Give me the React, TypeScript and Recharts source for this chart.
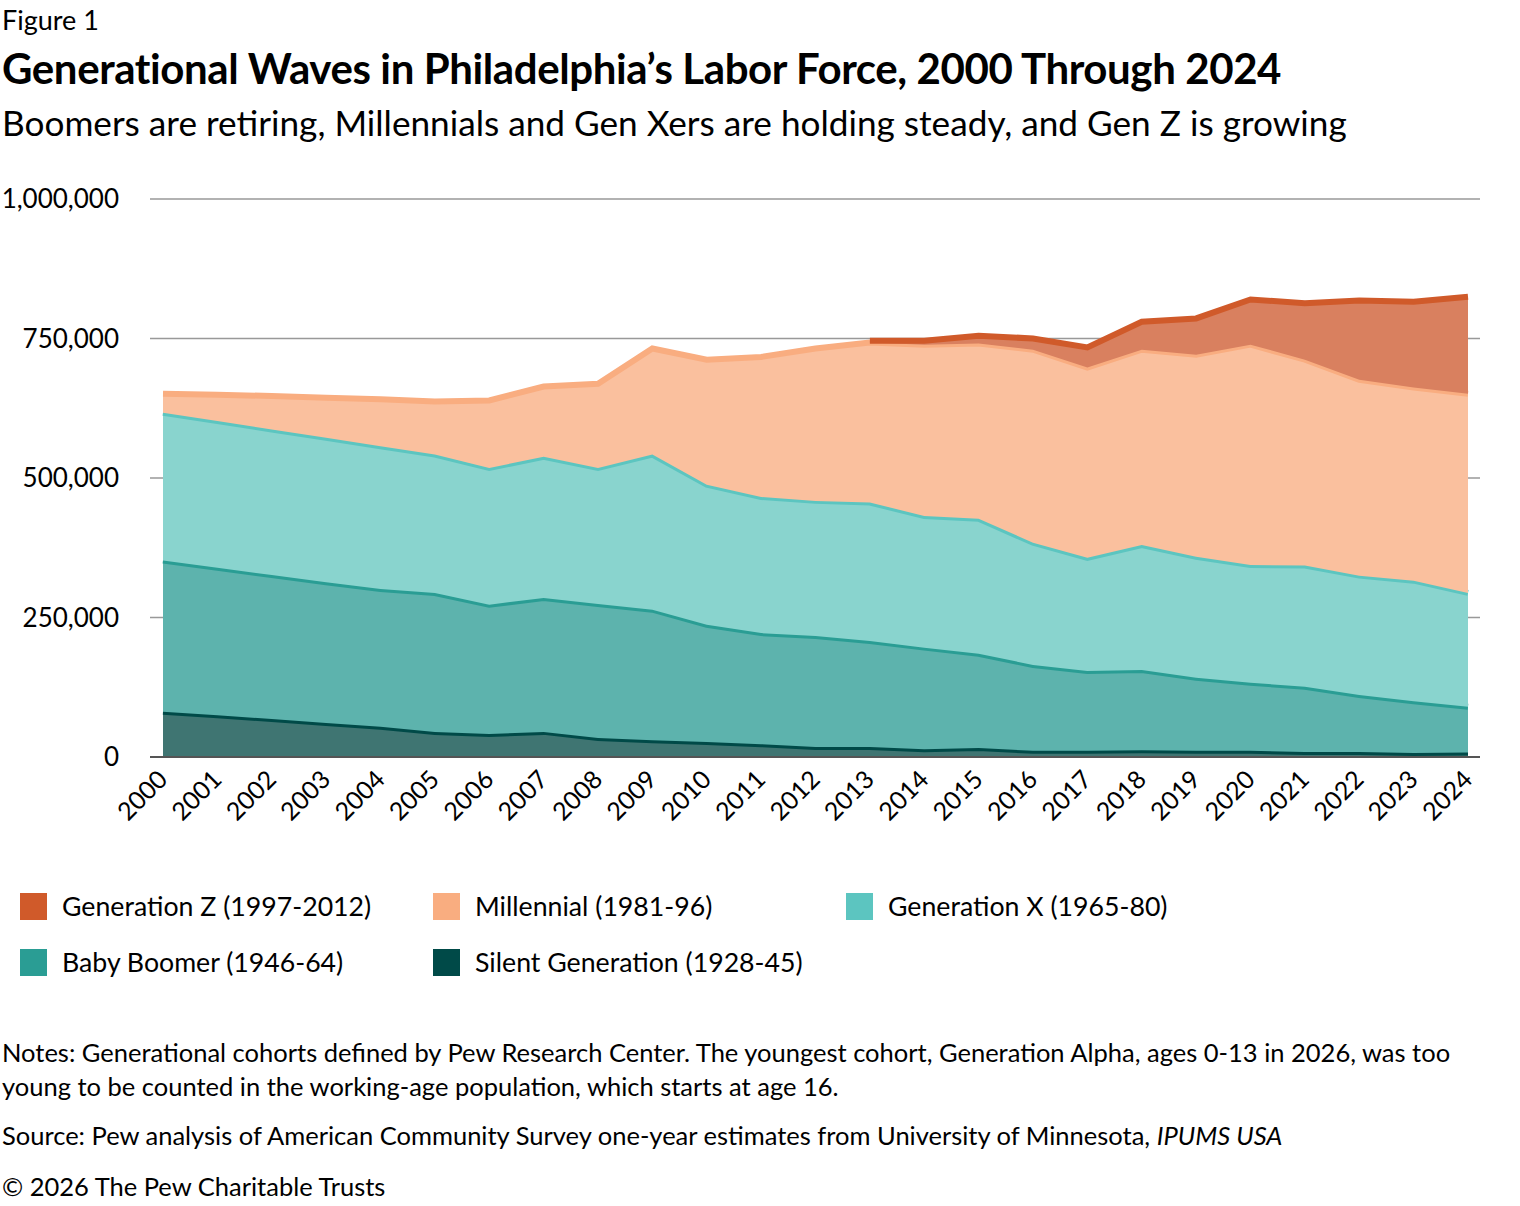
import { AreaChart, Area, XAxis, YAxis, CartesianGrid } from "recharts";

const years = ["2000","2001","2002","2003","2004","2005","2006","2007","2008","2009","2010","2011","2012","2013","2014","2015","2016","2017","2018","2019","2020","2021","2022","2023","2024"];

// cumulative tops, converted to layers below
const silent = [81000,75000,68000,61000,54000,45000,41000,45000,34000,30000,27000,23000,18000,18000,14000,16000,11000,11000,12000,11000,11000,9000,9000,7000,8000];
const boomerTop = [352000,339000,326000,313000,301000,294000,273000,285000,274000,264000,237000,222000,217000,208000,196000,185000,165000,154000,156000,142000,133000,126000,111000,100000,90000];
const genXTop = [617000,602000,587000,572000,557000,542000,518000,538000,518000,542000,488000,466000,459000,456000,432000,427000,384000,357000,380000,359000,344000,343000,325000,316000,294000];
const millTop = [651000,649000,647000,644000,641000,637000,639000,664000,669000,732000,712000,717000,732000,743000,739000,741000,730000,698000,730000,721000,739000,712000,676000,662000,651000];
const genZ: (number | null)[] = [null,null,null,null,null,null,null,null,null,null,null,null,null,3000,7000,14000,20000,36000,50000,65000,81000,101000,142000,154000,174000];

const yTicks = [0, 250000, 500000, 750000, 1000000];

const data = years.map((year, i) => ({
  year,
  silent: silent[i],
  boomer: boomerTop[i] - silent[i],
  genX: genXTop[i] - boomerTop[i],
  mill: millTop[i] - genXTop[i],
  genZ: genZ[i],
}));

const series = [
  { key: "silent", stroke: "#004a48", fill: "#3f7572", name: "Silent Generation (1928-45)" },
  { key: "boomer", stroke: "#2a9d94", fill: "#5db3ad", name: "Baby Boomer (1946-64)" },
  { key: "genX", stroke: "#5cc5c0", fill: "#89d4ce", name: "Generation X (1965-80)" },
  { key: "mill", stroke: "#f9ad80", fill: "#fac09e", name: "Millennial (1981-96)" },
  { key: "genZ", stroke: "#d05a2a", fill: "#d9805f", name: "Generation Z (1997-2012)" },
];

const legendRows = [
  [series[4], series[3], series[2]],
  [series[1], series[0]],
];

const font = "Lato, 'Open Sans', sans-serif";

const XTick = (props: any) => {
  const { x, y, payload } = props;
  return (
    <text
      x={x + 6}
      y={y + 16}
      textAnchor="end"
      fontSize={25}
      fill="#000"
      fontFamily={font}
      transform={`rotate(-45 ${x + 6} ${y + 16})`}
    >
      {payload.value}
    </text>
  );
};

export default function App() {
  return (
    <div style={{ position: "absolute", left: 0, top: 0, width: 1520, height: 1206, background: "#fff", fontFamily: font, color: "#000" }}>
      <div style={{ position: "absolute", left: 2, top: 3, fontSize: 27 }}>Figure 1</div>
      <div style={{ position: "absolute", left: 2, top: 43, fontSize: 42, fontWeight: 700, letterSpacing: -0.4 }}>
        Generational Waves in Philadelphia’s Labor Force, 2000 Through 2024
      </div>
      <div style={{ position: "absolute", left: 2, top: 101, fontSize: 35.2 }}>
        Boomers are retiring, Millennials and Gen Xers are holding steady, and Gen Z is growing
      </div>

      <div style={{ position: "absolute", left: 0, top: 0 }}>
        <AreaChart width={1520} height={860} data={data} margin={{ top: 199, right: 40, bottom: 13, left: 0 }}>
          <CartesianGrid vertical={false} stroke="#999" strokeWidth={1.5} />
          <XAxis
            dataKey="year"
            height={90}
            interval={0}
            padding={{ left: 13, right: 12 }}
            tickLine={false}
            axisLine={{ stroke: "#555", strokeWidth: 2 }}
            tick={<XTick />}
          />
          <YAxis
            width={150}
            domain={[0, 1000000]}
            ticks={yTicks}
            axisLine={false}
            tickLine={false}
            tickFormatter={(v: number) => v.toLocaleString("en-US")}
            tick={{ fontSize: 26, fill: "#000", fontFamily: font, dx: -23 }}
          />
          {series.map((s) => (
            <Area
              key={s.key}
              type="linear"
              dataKey={s.key}
              stackId="a"
              stroke={s.stroke}
              strokeWidth={6}
              fill={s.fill}
              fillOpacity={1}
              isAnimationActive={false}
              dot={false}
              activeDot={false}
            />
          ))}
        </AreaChart>
      </div>

      {legendRows.map((row, r) => (
        <div key={r} style={{ position: "absolute", top: 890 + r * 56, left: 20, display: "flex" }}>
          {row.map((s) => (
            <div key={s.key} style={{ width: 413, display: "flex", alignItems: "center", fontSize: 26.7 }}>
              <div style={{ width: 27, height: 27, background: s.stroke, marginRight: 15 }} />
              {s.name}
            </div>
          ))}
        </div>
      ))}

      <div style={{ position: "absolute", left: 2, top: 1035, width: 1470, fontSize: 25.5, lineHeight: "34px" }}>
        Notes: Generational cohorts defined by Pew Research Center. The youngest cohort, Generation Alpha, ages 0-13 in 2026, was too young to be counted in the working-age population, which starts at age 16.
      </div>
      <div style={{ position: "absolute", left: 2, top: 1120, fontSize: 25.5 }}>
        Source: Pew analysis of American Community Survey one-year estimates from University of Minnesota, <i>IPUMS USA</i>
      </div>
      <div style={{ position: "absolute", left: 2, top: 1171, fontSize: 25.5 }}>© 2026 The Pew Charitable Trusts</div>
    </div>
  );
}
